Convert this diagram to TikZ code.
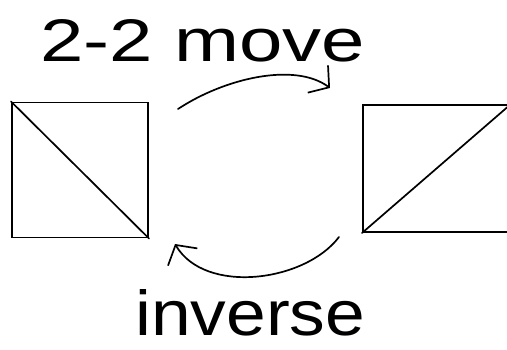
\documentclass[tikz,border=0pt]{standalone}
\usepackage{fontspec}
\setmainfont{Liberation Sans}
\usetikzlibrary{arrows.meta}
\begin{document}
\begin{tikzpicture}[x=1pt,y=-1pt,
  sq/.style={draw,line width=1.9pt,inner sep=0pt,minimum width=#1},
  pen/.style={line width=1.7pt,line cap=round,line join=round},
  barb/.style={-{Straight Barb[length=14pt,width=34pt,line width=1.7pt]}},
  lbl/.style={inner sep=0pt,anchor=base west}]
\useasboundingbox (0,0) rectangle (507,350);
\clip (0,0) rectangle (507,350);
\node[sq=136pt,minimum height=135pt] (L) at (80,170) {};
\draw[pen] (L.north west) -- (L.south east);
\node[sq=147pt,minimum height=127pt] (R) at (436.5,168.5) {};
\draw[pen] (R.south west) -- (R.north east);
\coordinate (a1) at (178,109);
\coordinate (a2) at (330,88);
\coordinate (b1) at (339,237);
\coordinate (b2) at (175,244);
\draw[pen,barb] (a1) .. controls (225,78) and (295,62) .. (a2);
\draw[pen,barb] (b1) .. controls (305,282) and (205,295) .. (b2);
\node[lbl] (t1) at (40,62) {\resizebox{325pt}{42pt}{2-2 move}};
\node[lbl] (t2) at (135,336) {\resizebox{230pt}{46pt}{inverse}};
\end{tikzpicture}
\end{document}
